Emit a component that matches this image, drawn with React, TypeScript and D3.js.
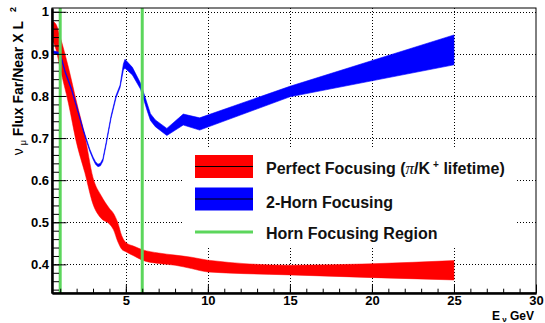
import { useEffect, useRef } from 'react';
import * as d3 from 'd3';

// Perfect focusing band (pi/K+ lifetime)
const redE = [0.5, 0.75, 1, 1.5, 2, 2.5, 3, 3.5, 4, 4.25, 4.5, 4.75, 5, 5.5, 6, 7, 8, 9, 10, 15, 25];
const redLow = [0.935, 0.91, 0.865, 0.783, 0.688, 0.618, 0.543, 0.509, 0.496, 0.482, 0.455, 0.436, 0.43, 0.42, 0.41, 0.402, 0.398, 0.39, 0.382, 0.375, 0.363];
const redHigh = [0.978, 0.97, 0.94, 0.868, 0.785, 0.706, 0.606, 0.563, 0.533, 0.521, 0.5, 0.468, 0.452, 0.443, 0.435, 0.427, 0.422, 0.417, 0.41, 0.398, 0.409];

// 2-horn focusing band
const blueE = [0.5, 1, 1.3, 1.7, 2, 2.4, 2.8, 3.0, 3.15, 3.3, 3.45, 3.6, 3.8, 4.1, 4.4, 4.65, 4.85, 4.95, 5.4, 5.9, 6.3, 6.5, 6.8, 7.5, 8.5, 9.5, 15, 25];
const blueLow = [0.902, 0.897, 0.855, 0.812, 0.772, 0.717, 0.669, 0.65, 0.638, 0.632, 0.634, 0.645, 0.684, 0.747, 0.795, 0.82, 0.862, 0.866, 0.85, 0.816, 0.765, 0.742, 0.727, 0.706, 0.731, 0.719, 0.798, 0.874];
const blueHigh = [0.908, 0.903, 0.86, 0.817, 0.777, 0.722, 0.674, 0.655, 0.644, 0.638, 0.64, 0.651, 0.69, 0.753, 0.801, 0.826, 0.876, 0.887, 0.868, 0.83, 0.782, 0.758, 0.743, 0.723, 0.757, 0.748, 0.823, 0.945];

// horn focusing region edges (GeV)
const hornRegion = [1, 6];

const xTicks = [5, 10, 15, 20, 25, 30];
const xTickLabels = ['5', '10', '15', '20', '25', '30'];
const yTicks = [0.4, 0.5, 0.6, 0.7, 0.8, 0.9, 1.0];
const yTickLabels = ['0.4', '0.5', '0.6', '0.7', '0.8', '0.9', '1'];

const W = 545;
const H = 323;
const FONT = "'Liberation Sans', Arial, Helvetica, sans-serif";

export default function App() {
  const svgRef = useRef<SVGSVGElement>(null);

  useEffect(() => {
    if (!svgRef.current) return;
    const svg = d3.select(svgRef.current);
    svg.selectAll('*').remove();

    const frame = { left: 52, right: 536, top: 8, bottom: 293 };

    const x = d3.scaleLinear().domain([0.5, 30]).range([frame.left, frame.right]);
    const y = d3.scaleLinear().domain([0.332, 1.009]).range([frame.bottom, frame.top]);

    svg.append('rect').attr('width', W).attr('height', H).attr('fill', '#fff');

    // grid (dotted)
    const grid = svg.append('g').attr('stroke', '#000').attr('stroke-width', 1).attr('stroke-dasharray', '1,2');
    xTicks.filter(t => t < 30).forEach(t => {
      grid.append('line')
        .attr('x1', Math.round(x(t)) + 0.5).attr('x2', Math.round(x(t)) + 0.5)
        .attr('y1', frame.top).attr('y2', frame.bottom);
    });
    yTicks.forEach(t => {
      grid.append('line')
        .attr('x1', frame.left).attr('x2', frame.right)
        .attr('y1', Math.round(y(t)) + 0.5).attr('y2', Math.round(y(t)) + 0.5);
    });

    // bands
    const band = (es: number[], lo: number[], hi: number[], curve: d3.CurveFactory) =>
      d3.area<number>()
        .x((_, i) => x(es[i]))
        .y0((_, i) => y(lo[i]))
        .y1((_, i) => y(hi[i]))
        .curve(curve)(es);

    svg.append('path')
      .attr('d', band(redE, redLow, redHigh, d3.curveMonotoneX))
      .attr('fill', '#ff0000')
      .attr('stroke', '#ff0000')
      .attr('stroke-width', 0.5);

    svg.append('path')
      .attr('d', band(blueE, blueLow, blueHigh, d3.curveLinear))
      .attr('fill', '#0000ff')
      .attr('stroke', '#0000ff')
      .attr('stroke-width', 0.6);

    // horn focusing region lines
    hornRegion.forEach(e => {
      svg.append('line')
        .attr('x1', x(e)).attr('x2', x(e))
        .attr('y1', frame.top).attr('y2', frame.bottom)
        .attr('stroke', '#5cd65c')
        .attr('stroke-width', 3);
    });

    // frame
    svg.append('rect')
      .attr('x', frame.left).attr('y', frame.top)
      .attr('width', frame.right - frame.left)
      .attr('height', frame.bottom - frame.top)
      .attr('fill', 'none')
      .attr('stroke', '#000')
      .attr('stroke-width', 1);

    // axes: ticks inside like ROOT
    const xAxis = svg.append('g').attr('transform', `translate(0,${frame.bottom})`)
      .call(d3.axisBottom(x).tickValues(xTicks).tickSize(-8.5).tickSizeOuter(0).tickPadding(3)
        .tickFormat((_, i) => xTickLabels[i]));
    svg.append('g').attr('transform', `translate(0,${frame.bottom})`)
      .call(d3.axisBottom(x).tickValues(d3.range(1, 30)).tickSize(-4.3).tickSizeOuter(0).tickFormat(() => ''));

    const yAxis = svg.append('g').attr('transform', `translate(${frame.left},0)`)
      .call(d3.axisLeft(y).tickValues(yTicks).tickSize(-14.5).tickSizeOuter(0).tickPadding(3)
        .tickFormat((_, i) => yTickLabels[i]));
    svg.append('g').attr('transform', `translate(${frame.left},0)`)
      .call(d3.axisLeft(y).tickValues(d3.range(0.34, 1.005, 0.02)).tickSize(-7).tickSizeOuter(0).tickFormat(() => ''));

    svg.selectAll('.domain').attr('stroke', '#000').attr('stroke-width', 2);
    svg.selectAll('.tick line').attr('stroke', '#000').attr('stroke-width', 1);
    [xAxis, yAxis].forEach(a => {
      a.selectAll('text')
        .attr('fill', '#000')
        .attr('font-family', FONT)
        .attr('font-weight', 'bold')
        .attr('font-size', '13px');
    });

    // x title
    const xt = svg.append('text')
      .attr('x', 534).attr('y', 320)
      .attr('text-anchor', 'end')
      .attr('font-family', FONT).attr('font-weight', 'bold').attr('font-size', '12px')
      .attr('fill', '#000');
    xt.append('tspan').text('E');
    xt.append('tspan').attr('dy', 2).attr('font-size', '8px').text(' ν');
    xt.append('tspan').attr('dy', -2).text(' GeV');

    // y title
    const yt = svg.append('text')
      .attr('transform', `translate(23,7) rotate(-90)`)
      .attr('text-anchor', 'end')
      .attr('font-family', FONT).attr('font-weight', 'bold').attr('font-size', '14px')
      .attr('fill', '#000');
    yt.append('tspan').attr('font-weight', 'normal').text('ν');
    yt.append('tspan').attr('dx', 3).attr('dy', 3).attr('font-size', '9px').attr('font-weight', 'normal').text('μ');
    yt.append('tspan').attr('dy', -3).text(' Flux Far/Near X L');
    yt.append('tspan').attr('dx', 9).attr('dy', -7).attr('font-size', '9px').text('2');

    // legend
    const lg = svg.append('g');
    lg.append('rect').attr('x', 183).attr('y', 148).attr('width', 332).attr('height', 99).attr('fill', '#fff');

    const entries = [
      { color: '#ff0000', kind: 'fill', y: 166.5 },
      { color: '#0000ff', kind: 'fill', y: 199 },
      { color: '#5cd65c', kind: 'line', y: 232 },
    ];
    entries.forEach(en => {
      if (en.kind === 'fill') {
        lg.append('rect').attr('x', 195).attr('y', en.y - 11.5).attr('width', 58).attr('height', 23).attr('fill', en.color);
        lg.append('line').attr('x1', 195).attr('x2', 253).attr('y1', en.y).attr('y2', en.y).attr('stroke', '#000').attr('stroke-width', 1);
      } else {
        lg.append('line').attr('x1', 195).attr('x2', 253).attr('y1', en.y).attr('y2', en.y).attr('stroke', en.color).attr('stroke-width', 3);
      }
    });

    const legText = (yy: number) => lg.append('text')
      .attr('x', 266).attr('y', yy)
      .attr('font-family', FONT).attr('font-weight', 'bold').attr('font-size', '16px')
      .attr('fill', '#111');

    const t1 = legText(174.3);
    t1.append('tspan').text('Perfect Focusing (');
    t1.append('tspan').attr('font-weight', 'normal').attr('font-style', 'italic').attr('font-family', "'Liberation Serif', serif").attr('font-size', '17px').text('π');
    t1.append('tspan').text('/K');
    t1.append('tspan').attr('dx', 3).attr('dy', -6).attr('font-size', '10px').text('+');
    t1.append('tspan').attr('dy', 6).text(' lifetime)');

    legText(207.7).text('2-Horn Focusing');
    legText(239).text('Horn Focusing Region');
  }, []);

  return (
    <svg ref={svgRef} width={W} height={H} style={{ position: 'absolute', left: 0, top: 0 }} />
  );
}
